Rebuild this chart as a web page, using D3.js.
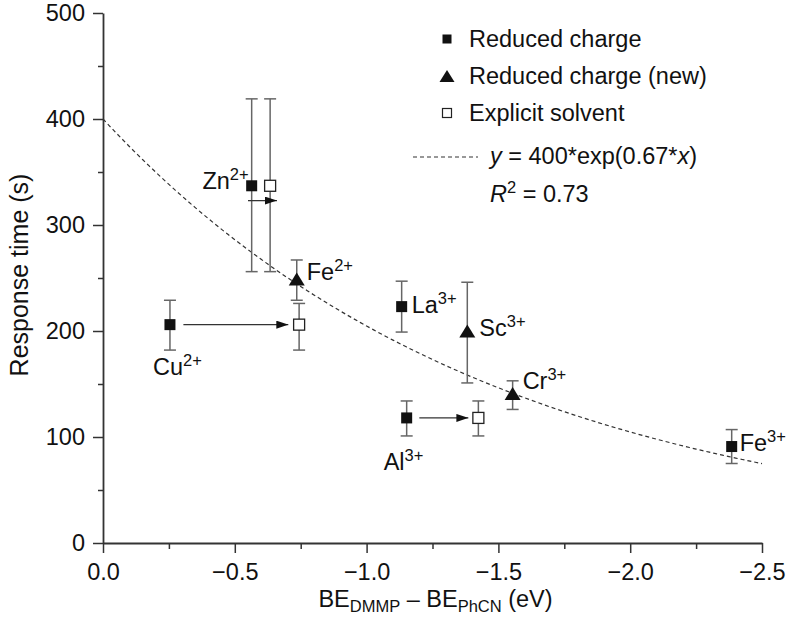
<!DOCTYPE html>
<html>
<head>
<meta charset="utf-8">
<script src="https://cdn.jsdelivr.net/npm/d3@7/dist/d3.min.js"></script>
<style>
  body { margin: 0; background: #fff; }
  svg { display: block; }
  text { font-family: "Liberation Sans", Arial, Helvetica, sans-serif; fill: #111; }
</style>
</head>
<body>
<svg id="chart" width="788" height="626"></svg>
<script>
// ---------------- Data ----------------
// Reduced charge (filled squares)
const reducedNames = ["Zn", "Cu", "La", "Al", "Fe3"];
const reducedX     = [-0.564, -0.254, -1.133, -1.152, -2.385];
const reducedY     = [337, 206, 223, 118, 91];
const reducedHi    = [419, 229, 247, 134, 107];
const reducedLo    = [256, 182, 199, 101, 75];

// Reduced charge (new) (filled triangles)
const newNames = ["Fe2", "Sc", "Cr"];
const newX     = [-0.735, -1.382, -1.554];
const newY     = [249, 200, 141];
const newHi    = [267, 246, 153];
const newLo    = [229, 151, 126];

// Explicit solvent (open squares)
const explicitNames = ["Zn", "Cu", "Al"];
const explicitX     = [-0.634, -0.744, -1.424];
const explicitY     = [337, 206, 118];
const explicitHi    = [419, 226, 134];
const explicitLo    = [256, 182, 101];

// Arrows (reduced -> explicit)
const arrowFromX = [-0.550, -0.305, -1.200];
const arrowToX   = [-0.660, -0.703, -1.386];
const arrowY     = [323, 206, 118];

// Fit y = A*exp(B*x)
const fitA = 400, fitB = 0.67;

// Ticks
const xMajorTicks = [0, -0.5, -1.0, -1.5, -2.0, -2.5];
const xMinorTicks = [-0.25, -0.75, -1.25, -1.75, -2.25];
const yMajorTicks = [0, 100, 200, 300, 400, 500];
const yMinorTicks = [50, 150, 250, 350, 450];

// Point labels: [base, superscript]
const labelText = {
  Zn: ["Zn", "2+"], Cu: ["Cu", "2+"], La: ["La", "3+"], Al: ["Al", "3+"],
  Fe3: ["Fe", "3+"], Fe2: ["Fe", "2+"], Sc: ["Sc", "3+"], Cr: ["Cr", "3+"]
};

const legendLabels = ["Reduced charge", "Reduced charge (new)", "Explicit solvent"];

// ---------------- Layout ----------------
const svg = d3.select("#chart");
const x = d3.scaleLinear().domain([0, -2.5]).range([103, 762]);
const y = d3.scaleLinear().domain([0, 500]).range([543, 13]);
const FS = 23.5;
const SUP = 16.5;
const axisColor = "#333";
const errColor = "#666";

// label placement (pixel offsets from point)
const labelPos = {
  Zn:  {dx: -3,  dy: 3,  anchor: "end"},
  Fe2: {dx: 10,  dy: 1,  anchor: "start"},
  Cu:  {dx: -17, dy: 50, anchor: "start"},
  La:  {dx: 10,  dy: 6,  anchor: "start"},
  Sc:  {dx: 12,  dy: 5,  anchor: "start"},
  Cr:  {dx: 10,  dy: -5, anchor: "start"},
  Al:  {dx: -23, dy: 52, anchor: "start"},
  Fe3: {dx: 8,   dy: 4,  anchor: "start"}
};

// ---------------- Axes ----------------
const gx = svg.append("g").attr("transform", `translate(0,${y(0)})`);
gx.call(d3.axisBottom(x).tickValues(xMajorTicks).tickSize(10).tickPadding(10)
  .tickFormat(d3.format(".1f")).tickSizeOuter(0));
gx.append("g").call(d3.axisBottom(x).tickValues(xMinorTicks).tickSize(6).tickFormat("").tickSizeOuter(0))
  .select(".domain").remove();

const gy = svg.append("g").attr("transform", `translate(${x(0)},0)`);
gy.call(d3.axisLeft(y).tickValues(yMajorTicks).tickSize(10).tickPadding(8).tickSizeOuter(0));
gy.append("g").call(d3.axisLeft(y).tickValues(yMinorTicks).tickSize(5).tickFormat("").tickSizeOuter(0))
  .select(".domain").remove();

svg.selectAll(".domain").attr("stroke", axisColor).attr("stroke-width", 1.8);
svg.selectAll(".tick line").attr("stroke", axisColor).attr("stroke-width", 1.5);
svg.selectAll(".tick text").attr("font-size", FS).attr("font-family", "Liberation Sans, Arial, sans-serif").attr("fill", "#111");

// Axis titles
svg.append("text")
  .attr("transform", `translate(28,${(y(0) + y(500)) / 2 - 3}) rotate(-90)`)
  .attr("text-anchor", "middle").attr("font-size", 25)
  .text("Response time (s)");

const xt = svg.append("text").attr("x", (x(0) + x(-2.5)) / 2 + 3).attr("y", 607)
  .attr("text-anchor", "middle").attr("font-size", FS);
xt.append("tspan").text("BE");
xt.append("tspan").attr("font-size", SUP).attr("dy", 5).text("DMMP");
xt.append("tspan").attr("dy", -5).text(" \u2013 BE");
xt.append("tspan").attr("font-size", SUP).attr("dy", 5).text("PhCN");
xt.append("tspan").attr("dy", -5).text(" (eV)");

// ---------------- Fit curve ----------------
const fitPts = d3.range(0, 101).map(i => {
  const xv = -2.5 * i / 100;
  return [xv, fitA * Math.exp(fitB * xv)];
});
svg.append("path")
  .attr("d", d3.line().x(d => x(d[0])).y(d => y(d[1]))(fitPts))
  .attr("fill", "none").attr("stroke", "#333").attr("stroke-width", 1.2)
  .attr("stroke-dasharray", "4,3");

// ---------------- Error bars ----------------
function errBars(xs, hi, lo) {
  const g = svg.append("g").attr("stroke", errColor).attr("stroke-width", 1.5);
  xs.forEach((xv, i) => {
    g.append("line").attr("x1", x(xv)).attr("x2", x(xv)).attr("y1", y(hi[i])).attr("y2", y(lo[i]));
    [hi[i], lo[i]].forEach(v => {
      g.append("line").attr("x1", x(xv) - 6).attr("x2", x(xv) + 6).attr("y1", y(v)).attr("y2", y(v));
    });
  });
}
errBars(reducedX, reducedHi, reducedLo);
errBars(newX, newHi, newLo);
errBars(explicitX, explicitHi, explicitLo);

// ---------------- Arrows ----------------
svg.append("defs").append("marker")
  .attr("id", "ah").attr("viewBox", "0 0 12 8").attr("refX", 12).attr("refY", 4)
  .attr("markerWidth", 12).attr("markerHeight", 8).attr("markerUnits", "userSpaceOnUse")
  .attr("orient", "auto")
  .append("path").attr("d", "M0,0 L12,4 L0,8 Z").attr("fill", "#111");
arrowFromX.forEach((fx, i) => {
  svg.append("line")
    .attr("x1", x(fx)).attr("x2", x(arrowToX[i]))
    .attr("y1", y(arrowY[i])).attr("y2", y(arrowY[i]))
    .attr("stroke", "#333").attr("stroke-width", 1.3)
    .attr("marker-end", "url(#ah)");
});

// ---------------- Markers ----------------
const SQ = 11;
const triPath = (w, h) => `M0,${-h / 2} L${w / 2},${h / 2} L${-w / 2},${h / 2} Z`;

svg.append("g").selectAll("rect").data(explicitX).join("rect")
  .attr("x", d => x(d) - SQ / 2).attr("y", (d, i) => y(explicitY[i]) - SQ / 2)
  .attr("width", SQ).attr("height", SQ)
  .attr("fill", "#fff").attr("stroke", "#222").attr("stroke-width", 1.3);

svg.append("g").selectAll("rect").data(reducedX).join("rect")
  .attr("x", d => x(d) - SQ / 2).attr("y", (d, i) => y(reducedY[i]) - SQ / 2)
  .attr("width", SQ).attr("height", SQ)
  .attr("fill", "#111");

svg.append("g").selectAll("path").data(newX).join("path")
  .attr("transform", (d, i) => `translate(${x(d)},${y(newY[i])})`)
  .attr("d", triPath(16, 13))
  .attr("fill", "#111");

// ---------------- Point labels ----------------
function addLabel(key, px, py) {
  const p = labelPos[key];
  const t = svg.append("text").attr("x", px + p.dx).attr("y", py + p.dy)
    .attr("text-anchor", p.anchor).attr("font-size", FS);
  t.append("tspan").text(labelText[key][0]);
  t.append("tspan").attr("font-size", SUP).attr("dy", -9).text(labelText[key][1]);
}
reducedNames.forEach((n, i) => addLabel(n, x(reducedX[i]), y(reducedY[i])));
newNames.forEach((n, i) => addLabel(n, x(newX[i]), y(newY[i])));

// ---------------- Legend ----------------
const lg = svg.append("g");
const lx = 447, ly0 = 39, lstep = 37;
lg.append("rect").attr("x", lx - 4.5).attr("y", ly0 - 4.5).attr("width", 9).attr("height", 9).attr("fill", "#111");
lg.append("path").attr("transform", `translate(${lx},${ly0 + lstep})`).attr("d", triPath(15, 12)).attr("fill", "#111");
lg.append("rect").attr("x", lx - 4.5).attr("y", ly0 + 2 * lstep - 4.5).attr("width", 9).attr("height", 9)
  .attr("fill", "#fff").attr("stroke", "#222").attr("stroke-width", 1.2);
legendLabels.forEach((s, i) => {
  lg.append("text").attr("x", 469).attr("y", ly0 + i * lstep + 8).attr("font-size", FS).text(s);
});
lg.append("line").attr("x1", 413).attr("x2", 478).attr("y1", 157).attr("y2", 157)
  .attr("stroke", "#333").attr("stroke-width", 1.2).attr("stroke-dasharray", "4,3");
const ft = lg.append("text").attr("x", 490).attr("y", 164).attr("font-size", FS);
ft.append("tspan").attr("font-style", "italic").text("y");
ft.append("tspan").text(" = 400*exp(0.67*");
ft.append("tspan").attr("font-style", "italic").text("x");
ft.append("tspan").text(")");
const rt = lg.append("text").attr("x", 490).attr("y", 202).attr("font-size", FS);
rt.append("tspan").attr("font-style", "italic").text("R");
rt.append("tspan").attr("font-size", SUP).attr("dy", -9).text("2");
rt.append("tspan").attr("dy", 9).text(" = 0.73");
</script>
</body>
</html>
